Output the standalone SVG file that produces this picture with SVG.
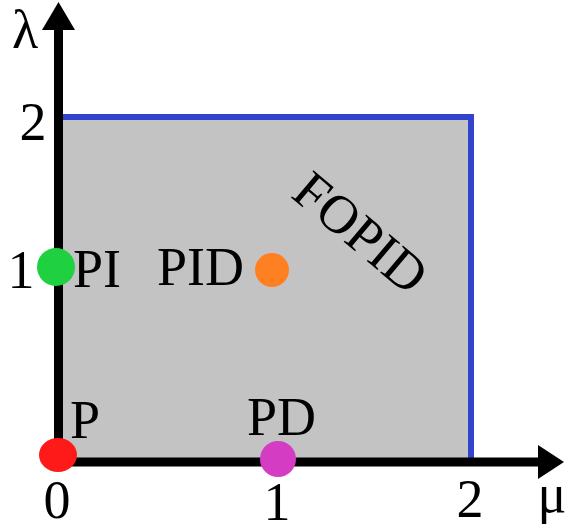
<svg xmlns="http://www.w3.org/2000/svg" width="566" height="532" viewBox="0 0 566 532">
<style>
text{font-family:"Liberation Serif","Times New Roman",serif;font-size:54px;fill:#000}
.ax{stroke:#000;stroke-width:9;fill:none}
.ah{fill:#000}
</style>
<rect width="566" height="532" fill="#fff"/>
<g id="region">
<rect x="63" y="119" width="406" height="339" fill="#c3c3c3"/>
<polyline points="63,117 471,117 471,458" fill="none" stroke="#3344cc" stroke-width="6"/>
<g transform="translate(362,231) rotate(40)"><text x="0" y="20" text-anchor="middle" font-size="60">FOPID</text></g>
</g>
<g id="connectors">
<line class="ax" x1="58.5" y1="466" x2="58.5" y2="26"/>
<polygon class="ah" points="58.5,2 42,30 75,30"/>
<line class="ax" x1="54" y1="462" x2="542" y2="462"/>
<polygon class="ah" points="564,462 538,445 538,479"/>
</g>
<g id="labels">
<text x="25" y="48" text-anchor="middle" font-size="44">λ</text>
<text x="33" y="140" text-anchor="middle">2</text>
<text x="21" y="288" text-anchor="middle">1</text>
<text x="57" y="518" text-anchor="middle">0</text>
<text x="277" y="520" text-anchor="middle" font-size="52">1</text>
<text x="470" y="517" text-anchor="middle">2</text>
<text x="552" y="512" text-anchor="middle" font-size="46">μ</text>
</g>
<g id="P">
<ellipse cx="58" cy="455" rx="19" ry="17" fill="#ff1a1a"/>
<text x="70" y="438">P</text>
</g>
<g id="PI">
<circle cx="56" cy="267" r="19" fill="#1fd040"/>
<text x="73" y="287">PI</text>
</g>
<g id="PID">
<circle cx="272" cy="270" r="17" fill="#ff8020"/>
<text x="157" y="285" font-size="56">PID</text>
</g>
<g id="PD">
<circle cx="278" cy="459" r="18" fill="#d43cc4"/>
<text x="247" y="435" font-size="56">PD</text>
</g>
</svg>
